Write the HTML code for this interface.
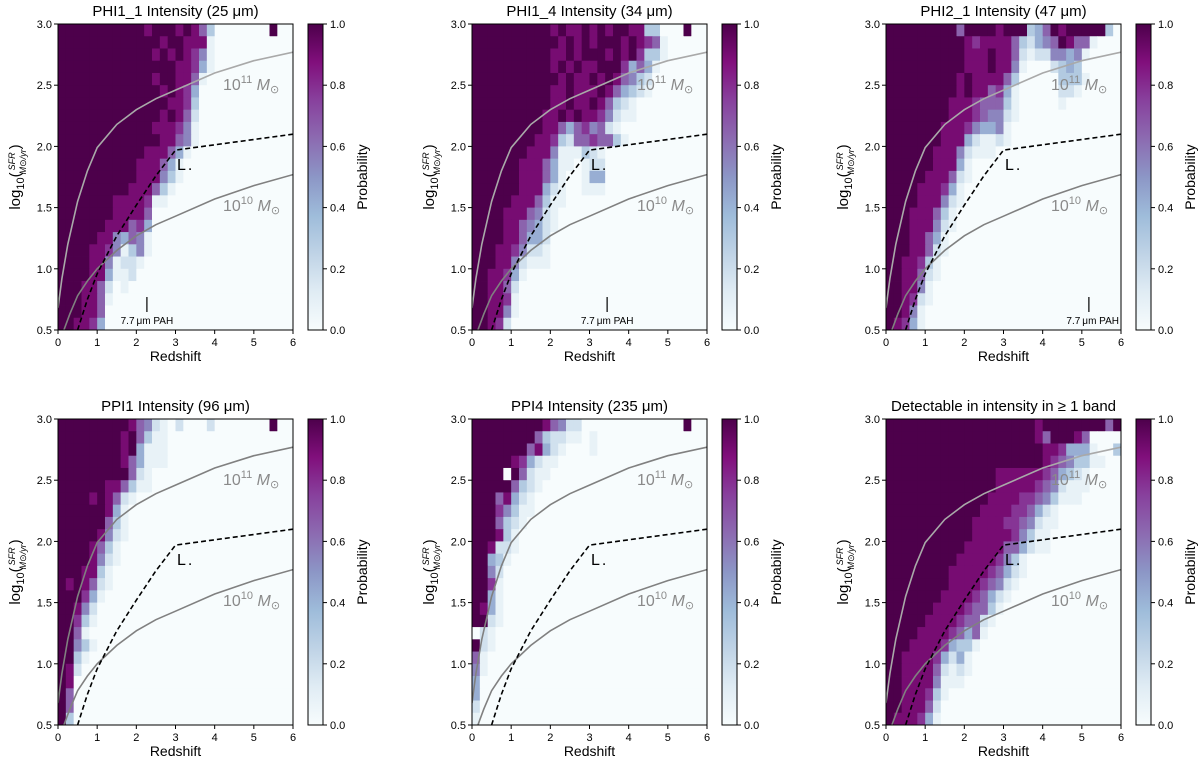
<!DOCTYPE html>
<html><head><meta charset="utf-8">
<style>
html,body{margin:0;padding:0;background:#fff;}
svg{display:block;font-family:"Liberation Sans","DejaVu Sans",sans-serif;}
</style></head>
<body>
<svg id="fig" width="1200" height="764" viewBox="0 0 1200 764" xmlns="http://www.w3.org/2000/svg"></svg>
<script>
// ---- data (probability levels 0-9 per cell, rows top (3.0) -> bottom (0.5), 30 cols of dz=0.2) ----
const titles = ["PHI1_1 Intensity (25 \u03bcm)","PHI1_4 Intensity (34 \u03bcm)","PHI2_1 Intensity (47 \u03bcm)","PPI1 Intensity (96 \u03bcm)","PPI4 Intensity (235 \u03bcm)","Detectable in intensity in \u2265 1 band"];
const xTicks = [0,1,2,3,4,5,6];
const yTicks = [0.5,1.0,1.5,2.0,2.5,3.0];
const cbTicks = [0.0,0.2,0.4,0.6,0.8,1.0];
const levelProb = [0,0.08,0.18,0.3,0.42,0.55,0.65,0.78,0.9,1.0];
const pahZ = [2.27,3.45,5.18,null,null,null];
const massHighZ = [0,0.1,0.25,0.5,0.75,1,1.5,2,2.5,3,4,5,6];
const massHighV = [0.68,0.92,1.2,1.55,1.8,1.99,2.18,2.3,2.39,2.46,2.6,2.7,2.77];
const massLowZ = [0.15,0.3,0.5,0.75,1,1.5,2,2.5,3,4,5,6];
const massLowV = [0.5,0.63,0.78,0.9,1.0,1.15,1.27,1.36,1.43,1.57,1.68,1.77];
const lstarZ = [0.5,0.75,1,1.5,2,2.5,3,6];
const lstarV = [0.5,0.75,0.96,1.27,1.52,1.76,1.97,2.1];
const grid1 = ["999999999998999898630000000900","999999999999989988810000000000","999999999999898987510000000000","999999999999999887410000000000","999999999999899886100000000000","999999999999989874000000000000","999999999999998873000000000000","999999999999989862000000000000","999999999999888751000000000000","999999999999988651000000000000","999999999998886410000000000000","999999999988864100000000000000","999999999988853100000000000000","999999999888631000000000000000","999999988887110000000000000000","999999988886000000000000000000","999999888674000000000000000000","999998854651000000000000000000","999988751351000000000000000000","999988512210000000000000000000","999988411200000000000000000000","999886201000000000000000000000","999886100000000000000000000000","999886000000000000000000000000","998874000000000000000000000000"];
const grid2 = ["999999999989889898998833000900","999999999998989899989876100000","999999999988989998989733100000","999999999989898899974641000000","999999999998988989865320000000","999999999988988898643210000000","999999999988988986321000000000","999999999889898875211000000000","999999999886467562100000000000","999999998873266766310000000000","999999988851113210000000000000","999999888641101220000000000000","999999888641001440000000000000","999999888421001110000000000000","999998886311000000000000000000","999988865210000000000000000000","999988654210000000000000000000","999988644200000000000000000000","999887522100000000000000000000","999885211100000000000000000000","998874100000000000000000000000","998862000000000000000000000000","998871000000000000000000000000","998851000000000000000000000000","998720000000000000000000000000"];
const grid3 = ["999999999699998999346989999930","999999999987888863245698661000","999999999988898862122554510000","999999999988898851000234300000","999999999898888630000033310000","999999999898867410000022100000","999999998887666310000010000000","999999998887655210000000000000","999999988875445100000000000000","999999988842112100000000000000","999999888521110000000000000000","999999888410000000000000000000","999998886210000000000000000000","999988874100000000000000000000","999988852100000000000000000000","999888631000000000000000000000","999888521000000000000000000000","999886410000000000000000000000","999886210000000000000000000000","998873100000000000000000000000","998862100000000000000000000000","998851000000000000000000000000","998721000000000000000000000000","998510000000000000000000000000","987410000000000000000000000000"];
const grid4 = ["999999999865210200020000000900","999999998963110000000000000000","999999998941110000000000000000","999999998641110000000000000000","999999999621000000000000000000","999999886311000000000000000000","999989862100000000000000000000","999999841000000000000000000000","999999631000000000000000000000","999998521000000000000000000000","999986310000000000000000000000","999985210000000000000000000000","999883100000000000000000000000","989862100000000000000000000000","999741000000000000000000000000","998520000000000000000000000000","997310000000000000000000000000","996100000000000000000000000000","995310000000000000000000000000","993100000000000000000000000000","982000000000000000000000000000","980000000000000000000000000000","960000000000000000000000000000","960000000000000000000000000000","930000000000000000000000000000"];
const grid5 = ["999999999865220000000000000900","999999996322110100000000000000","999999968421000100000000000000","999998742110000000000000000000","999909621100000000000000000000","999996321000000000000000000000","999684210000000000000000000000","999753110000000000000000000000","999632100000000000000000000000","999831000000000000000000000000","998221000000000000000000000000","994310000000000000000000000000","995200000000000000000000000000","997100000000000000000000000000","994100000000000000000000000000","984100000000000000000000000000","992100000000000000000000000000","021000000000000000000000000000","921000000000000000000000000000","610000000000000000000000000000","510000000000000000000000000000","400000000000000000000000000000","400000000000000000000000000000","200000000000000000000000000000","100000000000000000000000000000"];
const grid6 = ["999999999999999999989999999969","999999999999999999986999860000","999999999999999999998874441003","999999999999999999998765331100","999999999999998888887643210000","999999999999998888876521110000","999999999999988887765311100000","999999999999888877642100000000","999999999998888776521100000000","999999999998888875311000000000","999999999988888664211000000000","999999999888887531000000000000","999999998888876421000000000000","999999998888765210000000000000","999999988887642100000000000000","999999888876631000000000000000","999998888766210000000000000000","999988887646100000000000000000","999888874331000000000000000000","998888742410000000000000000000","998888621210000000000000000000","998888511100000000000000000000","998887310000000000000000000000","998886200000000000000000000000","988874100000000000000000000000"];
const grids = [grid1,grid2,grid3,grid4,grid5,grid6];

// ---- layout ----
const NS = "http://www.w3.org/2000/svg";
const svg = document.getElementById("fig");
const lefts = [58,472,886], tops = [24,419];
const W = 235, H = 306;
const stops = ["#f7fcfd","#e0ecf4","#bfd3e6","#9ebcda","#8c96c6","#8c6bb1","#88419d","#810f7c","#4d004b"];
function hex(h){return [parseInt(h.substr(1,2),16),parseInt(h.substr(3,2),16),parseInt(h.substr(5,2),16)];}
function cmap(p){p=Math.max(0,Math.min(1,p));const t=p*8;const i=Math.min(7,Math.floor(t));const f=t-i;const a=hex(stops[i]),b=hex(stops[i+1]);
 return "rgb("+a.map((v,k)=>Math.round(v+(b[k]-v)*f)).join(",")+")";}
function el(tag,attrs,parent){const e=document.createElementNS(NS,tag);for(const k in attrs)e.setAttribute(k,attrs[k]);(parent||svg).appendChild(e);return e;}
function txt(s,attrs,parent){const e=el("text",attrs,parent);e.textContent=s;return e;}

for(let p=0;p<6;p++){
  const L = lefts[p%3], T = tops[Math.floor(p/3)];
  const xs = z => L + z/6*W;
  const ys = v => T + (3-v)/2.5*H;
  const g = el("g",{});
  
  
  const grid = grids[p];
  const cells = el("g",{},g);
  
  
  for(let r=0;r<25;r++){
    const row = grid[r].padEnd(30,"0");
    const vTop = 3-0.1*r, vBot = 2.9-0.1*r;
    for(let c=0;c<30;c++){
      const prob = levelProb[parseInt(row[c])];
      const x0=xs(0.2*c), x1=xs(0.2*(c+1));
      const y0=ys(vTop), y1=ys(vBot);
      const rc = el("rect",{x:x0.toFixed(2),y:y0.toFixed(2),width:(x1-x0+0.4).toFixed(2),height:(y1-y0+0.4).toFixed(2),fill:cmap(prob)},cells);
      
      
    }
  }
  const cid="clip"+p;
  const cp = el("clipPath",{id:cid},g); el("rect",{x:L,y:T,width:W,height:H},cp);
  const lg = el("g",{"clip-path":"url(#"+cid+")"},g);
  const hiCol = (p===3||p===4)?"#808080":"#a9a9a9";
  const path = (zs,vs)=>zs.map((z,i)=>(i?"L":"M")+xs(z).toFixed(1)+","+ys(vs[i]).toFixed(1)).join(" ");
  const c1=el("path",{d:path(massHighZ,massHighV),fill:"none",stroke:hiCol,"stroke-width":1.6},lg);
  
  
  const c2=el("path",{d:path(massLowZ,massLowV),fill:"none",stroke:"#808080","stroke-width":1.6},lg);
  
  
  const c3=el("path",{d:path(lstarZ,lstarV),fill:"none",stroke:"#000","stroke-width":1.6,"stroke-dasharray":"5,3"},lg);
  
  
  const t11=txt("",{x:L+165,y:T+66,fill:"#8a8a8a","font-size":16},g);
  
  
  t11.innerHTML='10<tspan dy="-7" font-size="11">11</tspan><tspan dy="7" font-style="italic"> M</tspan><tspan dy="3" font-size="11">\u2299</tspan>';
  const t10=txt("",{x:L+165,y:T+187,fill:"#8a8a8a","font-size":16},g);
  
  
  t10.innerHTML='10<tspan dy="-7" font-size="11">10</tspan><tspan dy="7" font-style="italic"> M</tspan><tspan dy="3" font-size="11">\u2299</tspan>';
  const tl=txt("",{x:L+119,y:T+146,fill:"#000","font-size":16},g);
  
  
  tl.innerHTML='L<tspan dx="2" font-size="16">.</tspan>';
  if(pahZ[p]!==null){
    const px = xs(pahZ[p]);
    const pl=el("line",{x1:px,x2:px,y1:T+273,y2:T+288,stroke:"#000","stroke-width":1.2},g);
    
    
    const pt=txt("7.7\u2009\u03bcm PAH",{x:p===2?L+233:px,y:T+300,"font-size":10,"text-anchor":p===2?"end":"middle"},g);
    
    
  }
  const fr=el("rect",{x:L,y:T,width:W,height:H,fill:"none",stroke:"#000","stroke-width":1},g);
  
  
  xTicks.forEach(z=>{
    el("line",{x1:xs(z),x2:xs(z),y1:T+H,y2:T+H+4,stroke:"#000"},g);
    const t=txt(String(z),{x:xs(z),y:T+H+16,"font-size":11,"text-anchor":"middle"},g);
    
    
  });
  yTicks.forEach(v=>{
    el("line",{x1:L-4,x2:L,y1:ys(v),y2:ys(v),stroke:"#000"},g);
    const t=txt(v.toFixed(1),{x:L-6,y:ys(v)+4,"font-size":11,"text-anchor":"end"},g);
    
    
  });
  const xt=txt("Redshift",{x:L+W/2,y:T+H+31,"font-size":14,"text-anchor":"middle"},g);
  
  
  const yt=txt("",{x:0,y:0,"font-size":15,transform:"translate("+(L-38)+","+(T+H/2)+") rotate(-90)","text-anchor":"middle"},g);
  
  
  yt.innerHTML='log<tspan dy="4" font-size="11">10</tspan><tspan dy="-4">(</tspan><tspan font-size="9" font-style="italic" dx="2" dy="-5">SFR</tspan><tspan font-size="9" font-style="italic" dx="-22" dy="11">M\u2299/yr</tspan><tspan dy="-6">)</tspan>';
  const tt=txt(titles[p],{x:L+W/2,y:T-8,"font-size":15,"text-anchor":"middle"},g);
  
  
  const CX = L+250, CW = 15;
  const gid="cbg"+p;
  const defs=el("defs",{},g);
  const lgd=el("linearGradient",{id:gid,x1:0,y1:1,x2:0,y2:0},defs);
  stops.forEach((s,i)=>el("stop",{offset:(i/8).toFixed(3),"stop-color":s},lgd));
  const cb=el("rect",{x:CX,y:T,width:CW,height:H,fill:"url(#"+gid+")",stroke:"#000","stroke-width":1},g);
  
  
  cbTicks.forEach(v=>{
    const y=T+H-v*H;
    el("line",{x1:CX+CW,x2:CX+CW+4,y1:y,y2:y,stroke:"#000"},g);
    const t=txt(v.toFixed(1),{x:CX+CW+7,y:y+4,"font-size":11},g);
    
    
  });
  const cl=txt("Probability",{x:0,y:0,"font-size":14,"text-anchor":"middle",transform:"translate("+(CX+CW+44)+","+(T+H/2)+") rotate(-90)"},g);
  
  
}
</script>
</body></html>
